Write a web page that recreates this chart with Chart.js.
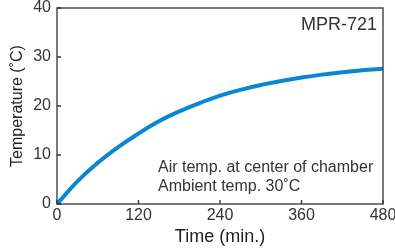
<!DOCTYPE html>
<html>
<head>
<meta charset="utf-8">
<script src="https://cdn.jsdelivr.net/npm/chart.js@4.4.1/dist/chart.umd.min.js"></script>
<style>
  html, body { margin: 0; padding: 0; background: #fff; }
  #wrap { width: 395px; height: 248px; }
</style>
</head>
<body>
<div id="wrap"><canvas id="chart" width="395" height="248"></canvas></div>
<script>
// time (min.) and air temperature at center of chamber (°C)
const timeMin = [0, 30, 60, 90, 120, 150, 180, 210, 240, 270, 300, 330, 360, 390, 420, 450, 480];
const tempC   = [0, 4.6, 8.4, 11.6, 14.4, 16.9, 18.9, 20.6, 22.1, 23.3, 24.3, 25.1, 25.8, 26.4, 26.9, 27.3, 27.6];
const xTicks = [0, 120, 240, 360, 480];
const yTicks = [0, 10, 20, 30, 40];

const modelName = 'MPR-721';
const noteLines = ['Air temp. at center of chamber', 'Ambient temp. 30\u02DAC'];

const FONT = '"Liberation Sans", Arial, sans-serif';
const TEXT = '#333333';

// box around the plot, small inward ticks, and the text notes
const frameAndNotes = {
    id: 'frameAndNotes',
    afterDraw(chart) {
        const { ctx, chartArea: a, scales } = chart;
        ctx.save();
        ctx.strokeStyle = '#333';
        ctx.lineWidth = 1.3;
        ctx.strokeRect(a.left, a.top, a.right - a.left, a.bottom - a.top);

        ctx.beginPath();
        xTicks.forEach(v => {
            const px = scales.x.getPixelForValue(v);
            ctx.moveTo(px, a.bottom);
            ctx.lineTo(px, a.bottom - 4);
        });
        yTicks.forEach(v => {
            const py = scales.y.getPixelForValue(v);
            ctx.moveTo(a.left, py);
            ctx.lineTo(a.left + 4, py);
        });
        ctx.stroke();

        ctx.fillStyle = TEXT;
        ctx.font = '18px ' + FONT;
        ctx.textAlign = 'right';
        ctx.textBaseline = 'alphabetic';
        ctx.fillText(modelName, a.right - 6, a.top + 22);

        ctx.font = '16px ' + FONT;
        ctx.textAlign = 'left';
        noteLines.forEach((t, i) => {
            ctx.fillText(t, a.left + 101, a.bottom - 32 + i * 18.5);
        });
        ctx.restore();
    }
};

new Chart(document.getElementById('chart').getContext('2d'), {
    type: 'line',
    data: {
        datasets: [{
            data: timeMin.map((t, i) => ({ x: t, y: tempC[i] })),
            borderColor: '#0a87d2',
            borderWidth: 4,
            pointRadius: 0,
            cubicInterpolationMode: 'monotone',
            fill: false
        }]
    },
    options: {
        responsive: false,
        animation: false,
        events: [],
        layout: { padding: { left: 0, top: 8, right: 12, bottom: 0 } },
        plugins: { legend: { display: false }, tooltip: { enabled: false } },
        scales: {
            x: {
                type: 'linear',
                min: 0, max: 480,
                afterBuildTicks: s => { s.ticks = xTicks.map(v => ({ value: v })); },
                afterFit: s => { s.height = 44; s.paddingLeft = 0; s.paddingRight = 0; },
                grid: { display: false, drawTicks: false },
                border: { display: false },
                ticks: { color: TEXT, font: { family: FONT, size: 16 }, padding: 2, maxRotation: 0 },
                title: { display: true, text: 'Time (min.)', color: '#222', font: { family: FONT, size: 18 }, padding: { top: 2, bottom: 0 } }
            },
            y: {
                min: 0, max: 40,
                afterBuildTicks: s => { s.ticks = yTicks.map(v => ({ value: v })); },
                afterFit: s => { s.width = 57; s.paddingTop = 0; s.paddingBottom = 0; },
                grid: { display: false, drawTicks: false },
                border: { display: false },
                ticks: { color: TEXT, font: { family: FONT, size: 16 }, padding: 6 },
                title: { display: true, text: 'Temperature (\u02DAC)', color: '#222', font: { family: FONT, size: 16 }, padding: { top: 8, bottom: 0 } }
            }
        }
    },
    plugins: [frameAndNotes]
});
</script>
</body>
</html>
